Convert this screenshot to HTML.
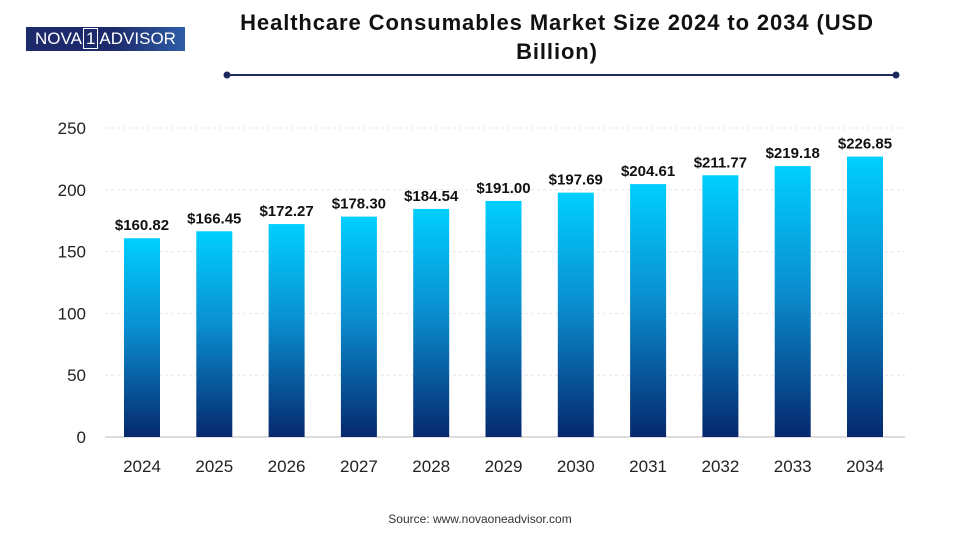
<!DOCTYPE html>
<html><head><meta charset="utf-8"><style>
body{margin:0;width:960px;height:540px;background:#fff;font-family:"Liberation Sans",sans-serif;overflow:hidden;position:relative}
.logo{position:absolute;left:26px;top:27px;width:159px;height:24px;background:linear-gradient(90deg,#1c2a6b 0%,#1c2a6b 55%,#2f5ea8 100%);color:#fff;font-size:17px;line-height:24px;text-align:center;white-space:nowrap}
.logo span{border:1px solid #fff;padding:0 2px;margin:0 1px}
.title{position:absolute;left:197px;width:720px;top:8px;text-align:center;font-weight:bold;font-size:22px;letter-spacing:0.9px;line-height:29px;color:#111;white-space:nowrap}
</style></head><body>
<div class="logo">NOVA<span>1</span>ADVISOR</div>
<div class="title">Healthcare Consumables Market Size 2024 to 2034 (USD<br>Billion)</div>
<svg id="c" width="960" height="540" style="position:absolute;left:0;top:0">
<defs><linearGradient id="g" x1="0" y1="0" x2="0" y2="1"><stop offset="0" stop-color="#00cfff"/><stop offset="0.45" stop-color="#0a8fd0"/><stop offset="1" stop-color="#06286e"/></linearGradient></defs>
<line x1="227" y1="75" x2="896" y2="75" stroke="#1c2a5e" stroke-width="2"/>
<circle cx="227" cy="75" r="3.5" fill="#1c2a5e"/><circle cx="896" cy="75" r="3.5" fill="#1c2a5e"/>
<text x="480" y="523" text-anchor="middle" font-size="12" fill="#333">Source: www.novaoneadvisor.com</text>
</svg>
<script>
const categories=["2024","2025","2026","2027","2028","2029","2030","2031","2032","2033","2034"];
const values=[160.82,166.45,172.27,178.30,184.54,191.00,197.69,204.61,211.77,219.18,226.85];
const yTicks=[0,50,100,150,200,250];
const svg=document.getElementById('c');const NS='http://www.w3.org/2000/svg';
const y=v=>437-v*309/250;
const x=i=>142+i*72.3;
function mk(t,a){const e=document.createElementNS(NS,t);for(const k in a)e.setAttribute(k,a[k]);svg.appendChild(e);return e;}
yTicks.forEach(t=>{
 const l=mk('line',{x1:105,x2:905,y1:y(t),y2:y(t),stroke:t?'#e6e6e6':'#bbb','stroke-dasharray':t?'3,3':''});
 
 
 const tx=mk('text',{x:86,y:y(t)+6,'text-anchor':'end','font-size':17,fill:'#222'});tx.textContent=t;
 
 
});
categories.forEach((c,i)=>{
 const r=mk('rect',{x:x(i)-18,y:y(values[i]),width:36,height:437-y(values[i]),fill:'url(#g)'});
 
 
 const v=mk('text',{x:x(i),y:y(values[i])-8,'text-anchor':'middle','font-size':15,'font-weight':'bold',fill:'#111'});v.textContent='$'+values[i].toFixed(2);
 
 
 const t=mk('text',{x:x(i),y:472,'text-anchor':'middle','font-size':17,fill:'#222'});t.textContent=c;
 
 
});
</script>
</body></html>
